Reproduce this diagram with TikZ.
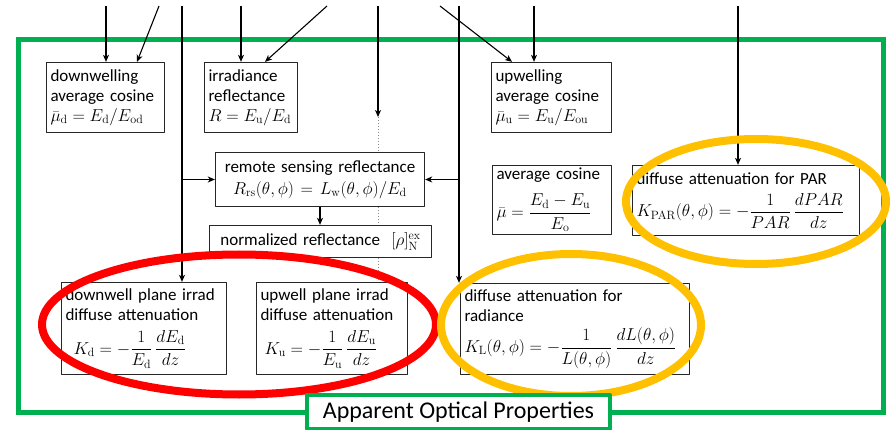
\documentclass[tikz,border=0pt]{standalone}
\usepackage{amsmath}
\usepackage[no-math]{fontspec}
\setmainfont{Carlito}
\usetikzlibrary{arrows.meta,backgrounds}
\definecolor{aopGreen}{RGB}{0,176,80}
\definecolor{aopRed}{RGB}{255,0,0}
\definecolor{aopGold}{RGB}{255,192,0}

\begin{document}
\begin{tikzpicture}[x=1pt, y=-1pt, line join=round,
  propbox/.style 2 args={draw=black!85, line width=1.3pt, fill=white, inner xsep=4pt, inner ysep=1pt,
    text width=#1, minimum height=#2, align=left, font=\fontsize{17}{20}\selectfont},
  feed/.style={line width=1.1pt, -{Stealth[length=7pt, width=6pt, inset=2pt]}},
  hidden/.style={draw=black!45, line width=1pt, dotted}]
\def\aopRingWidth{8pt}
\useasboundingbox (0,0) rectangle (894,430);
% Property boxes
\node[propbox={110pt}{70pt}] (dmu) at (105.5,97.5) {downwelling\\average cosine\\$\bar{\mu}_\mathrm{d}=E_\mathrm{d}/E_\mathrm{od}$};
\node[propbox={85pt}{70pt}] (irrR) at (251,97.5) {irradiance\\reflectance\\$R=E_\mathrm{u}/E_\mathrm{d}$};
\node[propbox={112pt}{70pt}] (umu) at (551.5,97.5) {upwelling\\average cosine\\$\bar{\mu}_\mathrm{u}=E_\mathrm{u}/E_\mathrm{ou}$};
\node[propbox={201pt}{54pt}, align=center] (Rrs) at (320,179.5) {remote sensing reflectance\\[2pt]$R_\mathrm{rs}(\theta,\phi)=L_\mathrm{w}(\theta,\phi)/E_\mathrm{d}$};
\node[propbox={214pt}{32pt}, align=center] (norm) at (320.5,241.5) {normalized reflectance~~$[\rho]_\mathrm{N}^\mathrm{ex}$};
\node[propbox={111pt}{69pt}] (avgcos) at (552,200) {average cosine\\[10pt]$\bar{\mu}=\dfrac{E_\mathrm{d}-E_\mathrm{u}}{E_\mathrm{o}}$};
\node[propbox={219pt}{70pt}] (KPAR) at (746,200.5) {diffuse attenuation for PAR\\[8pt]$K_\mathrm{PAR}(\theta,\phi)=-\dfrac{1}{PAR}\,\dfrac{dPAR}{dz}$};
\node[propbox={157pt}{92pt}] (Kd) at (144,328.5) {downwell plane irrad\\diffuse attenuation\\[9pt]\hspace*{8pt}$K_\mathrm{d}=-\dfrac{1}{E_\mathrm{d}}\,\dfrac{dE_\mathrm{d}}{dz}$};
\node[propbox={143pt}{92pt}] (Ku) at (332,328.5) {upwell plane irrad\\diffuse attenuation\\[9pt]\hspace*{4pt}$K_\mathrm{u}=-\dfrac{1}{E_\mathrm{u}}\,\dfrac{dE_\mathrm{u}}{dz}$};
\node[propbox={221pt}{91pt}] (KL) at (575,329) {diffuse attenuation for\\radiance\\[5pt]$K_\mathrm{L}(\theta,\phi)=-\dfrac{1}{L(\theta,\phi)}\,\dfrac{dL(\theta,\phi)}{dz}$};
% Free ends above the frame
\coordinate (inA) at (106,6);
\coordinate (inB) at (159,6);
\coordinate (inC) at (182,6);
\coordinate (inD) at (241,6);
\coordinate (inE) at (327,6);
\coordinate (inF) at (378,6);
\coordinate (stopF) at (378,117);
\coordinate (inG) at (440,6);
\coordinate (inH) at (459,6);
\coordinate (inJ) at (534,6);
\coordinate (inK) at (738,6);
\begin{scope}[on background layer]
  % Outer frame
  \draw[aopGreen, line width=5pt] (18,40) rectangle (883,412);
  % Connectors
  \draw[feed] (inA) -- (inA |- dmu.north);
  \draw[feed] (inB) -- ([xshift=31.5pt]dmu.north);
  \draw[feed] (inC) -- (inC |- Kd.north);
  \draw[feed] (inC |- Rrs.west) -- (Rrs.west);
  \draw[feed] (inD) -- (inD |- irrR.north);
  \draw[feed] (inE) -- ([xshift=14pt]irrR.north);
  \draw[feed] (inF) -- (stopF);
  \draw[hidden] (stopF) -- (stopF |- Ku.north);
  \draw[feed] (inG) -- ([xshift=-39.5pt]umu.north);
  \draw[feed] (inH) -- (inH |- KL.north);
  \draw[feed] (inH |- Rrs.east) -- (Rrs.east);
  \draw[feed] (inJ) -- (inJ |- umu.north);
  \draw[feed] (inK) -- (inK |- KPAR.north);
  \draw[feed] (Rrs.south) -- (Rrs.south |- norm.north);
\end{scope}
% Highlight rings
\draw[aopRed, line width=\aopRingWidth] (239,324.5) ellipse [x radius=197, y radius=70];
\draw[aopGold, line width=\aopRingWidth] (756,201.5) ellipse [x radius=130, y radius=62.5];
\draw[aopGold, line width=\aopRingWidth] (571,325) ellipse [x radius=130, y radius=71];
% Frame label
\node[draw=aopGreen, line width=4pt, fill=white, minimum width=303pt, minimum height=34pt,
  font=\fontsize{24}{28}\selectfont] (aopLabel) at (458.5,412) {Apparent Optical Properties};
\end{tikzpicture}
\end{document}
